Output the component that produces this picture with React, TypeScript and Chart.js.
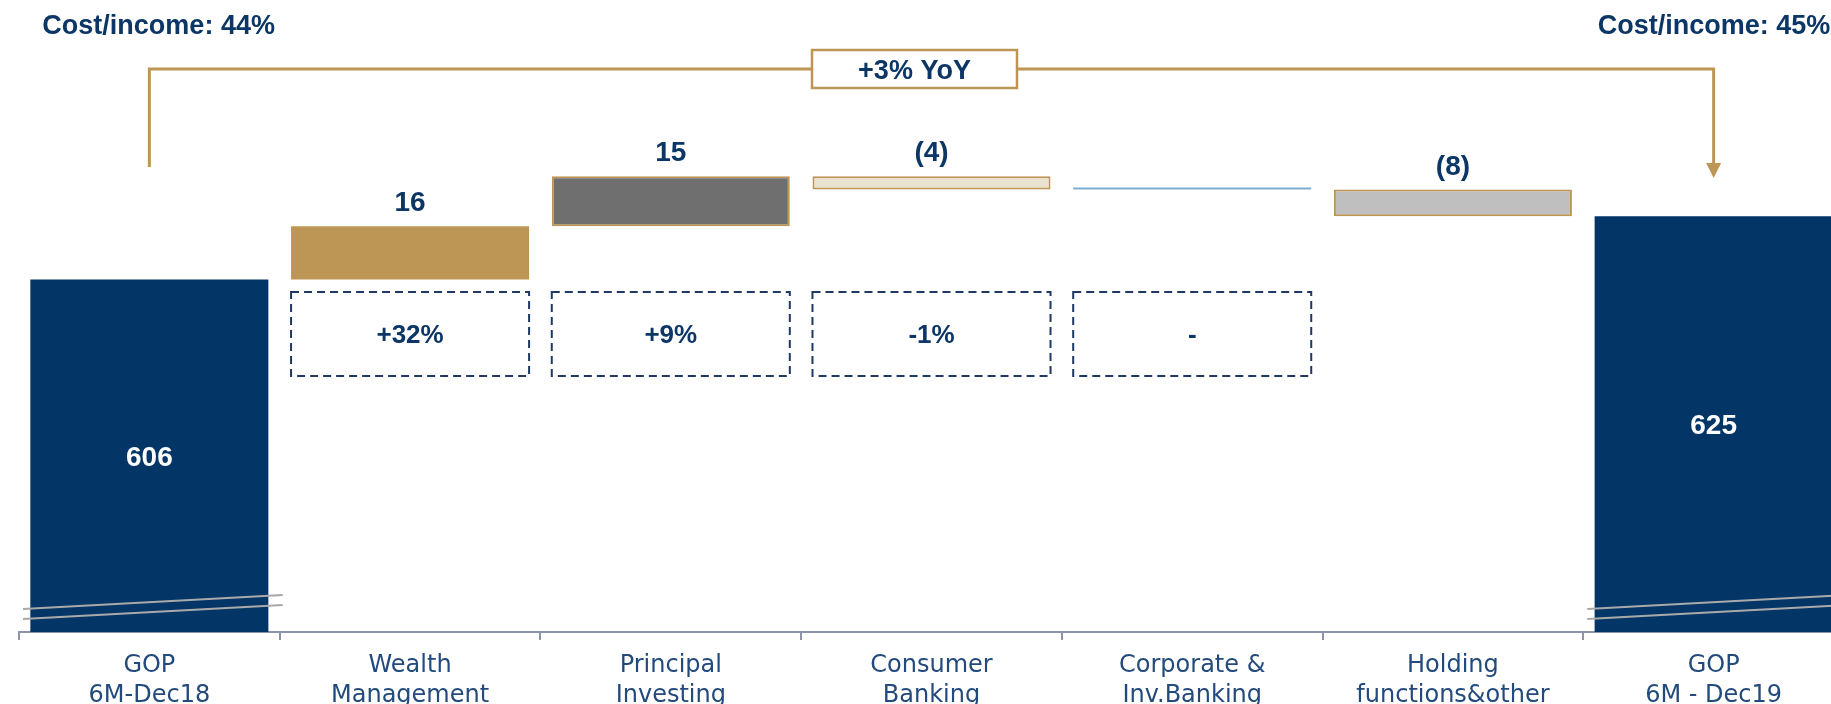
import React, { useEffect, useRef } from "react";
import { Chart, registerables } from "chart.js";

Chart.register(...registerables);

// ---- data ----
const categories: string[][] = [
  ["GOP", "6M-Dec18"],
  ["Wealth", "Management"],
  ["Principal", "Investing"],
  ["Consumer", "Banking"],
  ["Corporate &", "Inv.Banking"],
  ["Holding", "functions&other"],
  ["GOP", "6M - Dec19"],
];
const values = [606, 16, 15, -4, 0, -8, 625];
const isTotal = [true, false, false, false, false, false, true];
const yoyLabels: (string | null)[] = [null, "+32%", "+9%", "-1%", "-", null, null];
const costIncomeLabels = ["Cost/income: 44%", "Cost/income: 45%"];
const growthLabel = "+3% YoY";
const axisMin = 500;
const axisMax = 690;

// ---- styles ----
const NAVY = "#033566";
const GOLD = "#BD9655";
const TEXT_NAVY = "#0B3665";
const AXIS = "#8D93A8";
const fills = [NAVY, GOLD, "#6F6F6F", "#E9E2CF", "#7DAFD4", "#BFBFBF", NAVY];
const borders = [NAVY, GOLD, GOLD, GOLD, "#7DAFD4", GOLD, NAVY];
const borderWidths = [0, 0, 2, 2, 0, 2, 0];

function buildFloating(): number[][] {
  let run = 0;
  return values.map((v, i) => {
    if (isTotal[i]) {
      run = v;
      return [axisMin, v];
    }
    const start = run;
    run += v;
    return [Math.min(start, run), Math.max(start, run)];
  });
}

function fmt(v: number, i: number): string {
  if (isTotal[i]) return String(v);
  if (v === 0) return "";
  return v < 0 ? `(${Math.abs(v)})` : String(v);
}

const VALUE_FONT = '"Liberation Sans", Arial, sans-serif';

function drawText(
  ctx: CanvasRenderingContext2D,
  text: string,
  x: number,
  cy: number,
  size: number,
  color: string,
  align: CanvasTextAlign = "center"
) {
  ctx.save();
  ctx.font = `bold ${size}px ${VALUE_FONT}`;
  ctx.fillStyle = color;
  ctx.textAlign = align;
  ctx.textBaseline = "alphabetic";
  ctx.fillText(text, x, cy + size * 0.716 / 2);
  ctx.restore();
}

const annotPlugin = {
  id: "waterfallAnnotations",
  afterDatasetsDraw(chart: any) {
    const ctx: CanvasRenderingContext2D = chart.ctx;
    const meta = chart.getDatasetMeta(0);
    const area = chart.chartArea;
    const xs = chart.scales.x;
    const els = meta.data;
    const catW = (area.right - area.left) / categories.length;

    // break marks on total bars
    els.forEach((el: any, i: number) => {
      if (!isTotal[i]) return;
      const left = el.x - catW / 2 + 4;
      const right = el.x + catW / 2 + 3;
      ctx.save();
      ctx.strokeStyle = "#A9A9A9";
      ctx.lineWidth = 2;
      [23, 13].forEach((off) => {
        ctx.beginPath();
        ctx.moveTo(left, area.bottom - off);
        ctx.lineTo(right, area.bottom - off - 14);
        ctx.stroke();
      });
      ctx.restore();
    });

    // value labels
    els.forEach((el: any, i: number) => {
      const t = fmt(values[i], i);
      if (!t) return;
      const top = Math.min(el.y, el.base);
      const bottom = Math.max(el.y, el.base);
      if (isTotal[i]) {
        drawText(ctx, t, el.x, (top + bottom) / 2, 28, "#FFFFFF");
      } else {
        drawText(ctx, t, el.x, top - 25, 28, TEXT_NAVY);
      }
    });

    // dashed growth boxes
    els.forEach((el: any, i: number) => {
      const lab = yoyLabels[i];
      if (lab == null) return;
      const x0 = el.x - el.width / 2;
      const x1 = el.x + el.width / 2;
      const y0 = area.top + 292;
      const y1 = area.top + 376;
      ctx.save();
      ctx.strokeStyle = "#1F3864";
      ctx.lineWidth = 2;
      ctx.setLineDash([8, 5]);
      ctx.strokeRect(x0, y0, x1 - x0, y1 - y0);
      ctx.restore();
      drawText(ctx, lab, el.x, (y0 + y1) / 2, 26, TEXT_NAVY);
    });

    // bracket with arrow
    const lx = xs.getPixelForValue(0);
    const rx = xs.getPixelForValue(categories.length - 1);
    const by = area.top + 69;
    const boxW = 205;
    const boxH = 38;
    const boxCx = (lx + rx) / 2 - 17;
    ctx.save();
    ctx.strokeStyle = GOLD;
    ctx.lineWidth = 3;
    ctx.beginPath();
    ctx.moveTo(lx, area.top + 167);
    ctx.lineTo(lx, by);
    ctx.lineTo(rx, by);
    ctx.lineTo(rx, area.top + 164);
    ctx.stroke();
    ctx.fillStyle = GOLD;
    ctx.beginPath();
    ctx.moveTo(rx - 7.5, area.top + 163);
    ctx.lineTo(rx + 7.5, area.top + 163);
    ctx.lineTo(rx, area.top + 178);
    ctx.closePath();
    ctx.fill();
    ctx.fillStyle = "#FFFFFF";
    ctx.fillRect(boxCx - boxW / 2, by - boxH / 2, boxW, boxH);
    ctx.lineWidth = 2.5;
    ctx.strokeRect(boxCx - boxW / 2, by - boxH / 2, boxW, boxH);
    ctx.restore();
    drawText(ctx, growthLabel, boxCx, by, 27, TEXT_NAVY);

    // cost/income labels
    drawText(ctx, costIncomeLabels[0], lx - 107, area.top + 24, 27, TEXT_NAVY, "left");
    drawText(ctx, costIncomeLabels[1], rx - 116, area.top + 24, 27, TEXT_NAVY, "left");
  },
};

export default function App() {
  const ref = useRef<HTMLCanvasElement | null>(null);

  useEffect(() => {
    const canvas = ref.current;
    if (!canvas) return;
    const chart = new Chart(canvas, {
      type: "bar",
      data: {
        labels: categories as any,
        datasets: [
          {
            data: buildFloating() as any,
            backgroundColor: fills,
            borderColor: borders,
            borderWidth: borderWidths,
            borderSkipped: false,
            barPercentage: 0.913,
            categoryPercentage: 1,
            minBarLength: 2,
          },
        ],
      },
      options: {
        responsive: false,
        animation: false,
        devicePixelRatio: 1,
        layout: { padding: { left: 19, right: 16, top: 0, bottom: 0 } },
        plugins: {
          legend: { display: false },
          tooltip: { enabled: false },
        },
        scales: {
          x: {
            grid: {
              display: true,
              drawOnChartArea: false,
              drawTicks: true,
              tickLength: 8,
              color: AXIS,
              lineWidth: 2,
              offset: true,
            },
            border: { display: true, color: AXIS, width: 2 },
            ticks: {
              color: "#234A7C",
              font: { family: '"DejaVu Sans", sans-serif', size: 24, lineHeight: 1.25 },
              padding: 11,
              maxRotation: 0,
              autoSkip: false,
            },
            afterFit: (s: any) => {
              s.height = 72;
            },
          },
          y: { display: false, min: axisMin, max: axisMax },
        },
      },
      plugins: [annotPlugin],
    });
    return () => chart.destroy();
  }, []);

  return (
    <div
      style={{
        position: "fixed",
        left: 0,
        top: 0,
        width: 1831,
        height: 704,
        overflow: "hidden",
        background: "#FFFFFF",
      }}
    >
      <canvas ref={ref} width={1860} height={704} style={{ width: 1860, height: 704, display: "block" }} />
    </div>
  );
}
